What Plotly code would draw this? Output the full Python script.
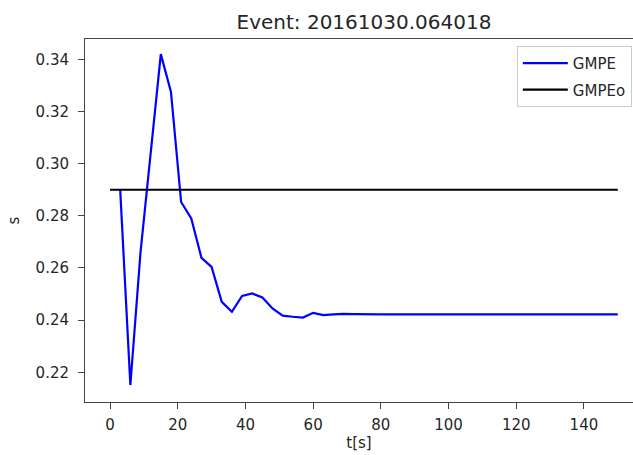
import plotly.graph_objects as go

# Data
t_gmpe = [3, 6, 9, 12, 15, 18, 21, 24, 27, 30, 33, 36, 39, 42, 45, 48, 51, 54, 57, 60,
          63, 66, 69, 72, 75, 80, 90, 100, 110, 120, 130, 140, 150]
s_gmpe = [0.290, 0.2151, 0.266, 0.305, 0.342, 0.3275, 0.2853, 0.279, 0.2639, 0.2604,
          0.247, 0.2432, 0.2493, 0.2502, 0.2487, 0.2445, 0.2417, 0.2413, 0.2410, 0.2428,
          0.2419, 0.2422, 0.2424, 0.2423, 0.2422, 0.2422, 0.2422, 0.2422, 0.2422, 0.2422,
          0.2422, 0.2422, 0.2422]
t_gmpeo = [0, 150]
s_gmpeo = [0.29, 0.29]

title_text = "Event: 20161030.064018"
x_label = "t[s]"
y_label = "s"

font_family = "DejaVu Sans"
text_color = "#262626"
axis_color = "#444444"

fig = go.Figure()
fig.add_trace(go.Scatter(x=t_gmpe, y=s_gmpe, mode="lines", name="GMPE",
                         line=dict(color="#0000ff", width=2.2), legendgroup="a"))
fig.add_trace(go.Scatter(x=t_gmpeo, y=s_gmpeo, mode="lines", name="GMPEo",
                         line=dict(color="#000000", width=2.2), legendgroup="b"))

fig.update_layout(
    width=633, height=455,
    margin=dict(l=85, r=0, t=39, b=53),
    paper_bgcolor="white", plot_bgcolor="white",
    font=dict(family=font_family, size=15, color=text_color),
    title=dict(text=title_text, x=0.575, xanchor="center", y=1 - 22 / 455,
               yanchor="middle", font=dict(size=20, color=text_color)),
    showlegend=True,
    legend=dict(x=0.788, y=0.981, xanchor="left", yanchor="top",
                bgcolor="white", bordercolor="#cccccc", borderwidth=1,
                font=dict(size=15), tracegroupgap=4, itemwidth=45),
    xaxis=dict(range=[-7.4, 154.5], tick0=0, dtick=20, showgrid=False, zeroline=False,
               showline=True, linecolor=axis_color, linewidth=1, mirror=True,
               ticks="outside", ticklen=6, tickwidth=1, tickcolor=axis_color,
               tickfont=dict(size=15), ticklabelstandoff=3,
               title=dict(text=x_label, font=dict(size=15), standoff=3)),
    yaxis=dict(range=[0.2086, 0.3478], tick0=0, dtick=0.02, tickformat=".2f",
               showgrid=False, zeroline=False,
               showline=True, linecolor=axis_color, linewidth=1, mirror=False,
               ticks="outside", ticklen=6, tickwidth=1, tickcolor=axis_color,
               tickfont=dict(size=15), ticklabelstandoff=6,
               title=dict(text=y_label, font=dict(size=15), standoff=12)),
)

fig.write_html("out.html")
